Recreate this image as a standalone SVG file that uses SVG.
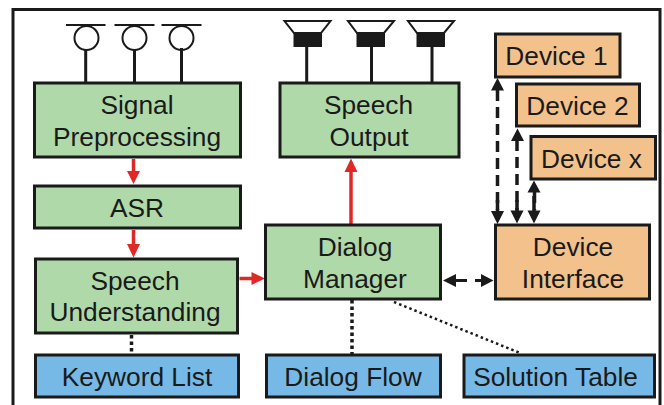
<svg xmlns="http://www.w3.org/2000/svg" width="664" height="405" viewBox="0 0 664 405">
<style>
.n{stroke:#1a1a1a;stroke-width:3}
.g{fill:#b0d9aa}.o{fill:#f3c28c}.b{fill:#77b9e6}
text{font-family:"Liberation Sans",Arial,sans-serif;font-size:26.300px;fill:#1a1a1a;text-anchor:middle}
.k{stroke:#1a1a1a;fill:none}
.r{stroke:#e02826;stroke-width:3.5;fill:none}
.ra{fill:#e02826}.ka{fill:#1a1a1a}
</style>
<rect x="13" y="9.500" width="647" height="410" fill="#fff" stroke="#1a1a1a" stroke-width="3"/>
<g id="connectors">
<g class="k" stroke-width="3">
<path d="M66 25H105.500M114.500 25H154.500M161.500 25H201.500" stroke-width="2"/>
<circle cx="86.500" cy="38" r="12" stroke-width="2"/><circle cx="134.500" cy="38" r="12" stroke-width="2"/><circle cx="181.500" cy="38" r="12" stroke-width="2"/>
<path d="M85.700 50V84M134.500 50V83M181.500 48V83"/>
<path d="M306.700 46V83M371.500 46V83M432 46V83"/>
<path d="M284.500 21H330.500L321 33H294Z M348 21H394L384 33H357Z M408 21H454L444 33H417Z" stroke-width="2" fill="#fff"/>
</g>
<path class="ka" d="M293.500 33H322V47H293.500Z M356.500 33H385V47H356.500Z M416.500 33H445V47H416.500Z"/>
<path class="r" d="M133.500 159V172M133.500 230V245M239.500 278.500H253M351 224V172"/>
<path class="ra" d="M127 171H140L133.500 184Z M127 244H140L133.500 257.500Z M251.500 272L265 278.500L251.500 285Z M344.500 172L351 158.500L357.500 172Z"/>
<path class="k" stroke-width="3.500" stroke-dasharray="11 6" d="M497.500 90V210M517 140V210M534.500 192V210"/>
<path class="k" stroke-width="3.500" d="M497.500 200V212M517 200V212M534 196V212"/>
<path class="ka" d="M491 90.500L497.500 78L504 90.500Z M511 141L517.500 128.500L524 141Z M527.500 192.500L534 180.500L540.500 192.500Z M491 211L497.500 224L504 211Z M510.500 210.500L517 223.500L523.500 210.500Z M527.500 210.500L534 223.500L540.500 210.500Z M443 280.500L456 274V287Z M493.500 280.500L481 274V287Z"/>
<path class="k" stroke-width="3" d="M455 280.500H467M475 280.500H482"/>
<path class="k" stroke-width="3.500" stroke-dasharray="3.500 3" d="M131.500 335V354M352 300V354"/>
<path class="k" stroke-width="2.500" stroke-dasharray="2.500 3" d="M394 302L520 353"/>
</g>
<g id="signal"><rect class="n g" x="34.500" y="83" width="206" height="74"/><text x="137" y="114">Signal</text><text x="137" y="146">Preprocessing</text></g>
<g id="asr"><rect class="n g" x="34.500" y="186" width="206" height="42"/><text x="137" y="216.500">ASR</text></g>
<g id="understanding"><rect class="n g" x="35.500" y="259" width="202" height="74"/><text x="135" y="289.500">Speech</text><text x="135" y="321">Understanding</text></g>
<g id="keyword"><rect class="n b" x="35.500" y="355" width="203" height="42"/><text x="137" y="385.500">Keyword List</text></g>
<g id="output"><rect class="n g" x="280" y="83" width="179" height="74"/><text x="368.500" y="114">Speech</text><text x="369" y="146">Output</text></g>
<g id="manager"><rect class="n g" x="265.500" y="225" width="175" height="74"/><text x="355" y="256">Dialog</text><text x="355" y="288">Manager</text></g>
<g id="flow"><rect class="n b" x="266.500" y="355" width="174" height="42"/><text x="353" y="385.500">Dialog Flow</text></g>
<g id="solution"><rect class="n b" x="464" y="355" width="190.500" height="42"/><text x="555.500" y="386">Solution Table</text></g>
<g id="interface"><rect class="n o" x="495.500" y="225" width="154" height="74"/><text x="573" y="256">Device</text><text x="573" y="288">Interface</text></g>
<g id="device1"><rect class="n o" x="495.500" y="34" width="124.500" height="43"/><text x="556.500" y="65">Device 1</text></g>
<g id="device2"><rect class="n o" x="516.500" y="84" width="123" height="42"/><text x="577.500" y="115">Device 2</text></g>
<g id="devicex"><rect class="n o" x="531" y="136.500" width="124.500" height="42.500"/><text x="591.500" y="168">Device x</text></g>
</svg>
